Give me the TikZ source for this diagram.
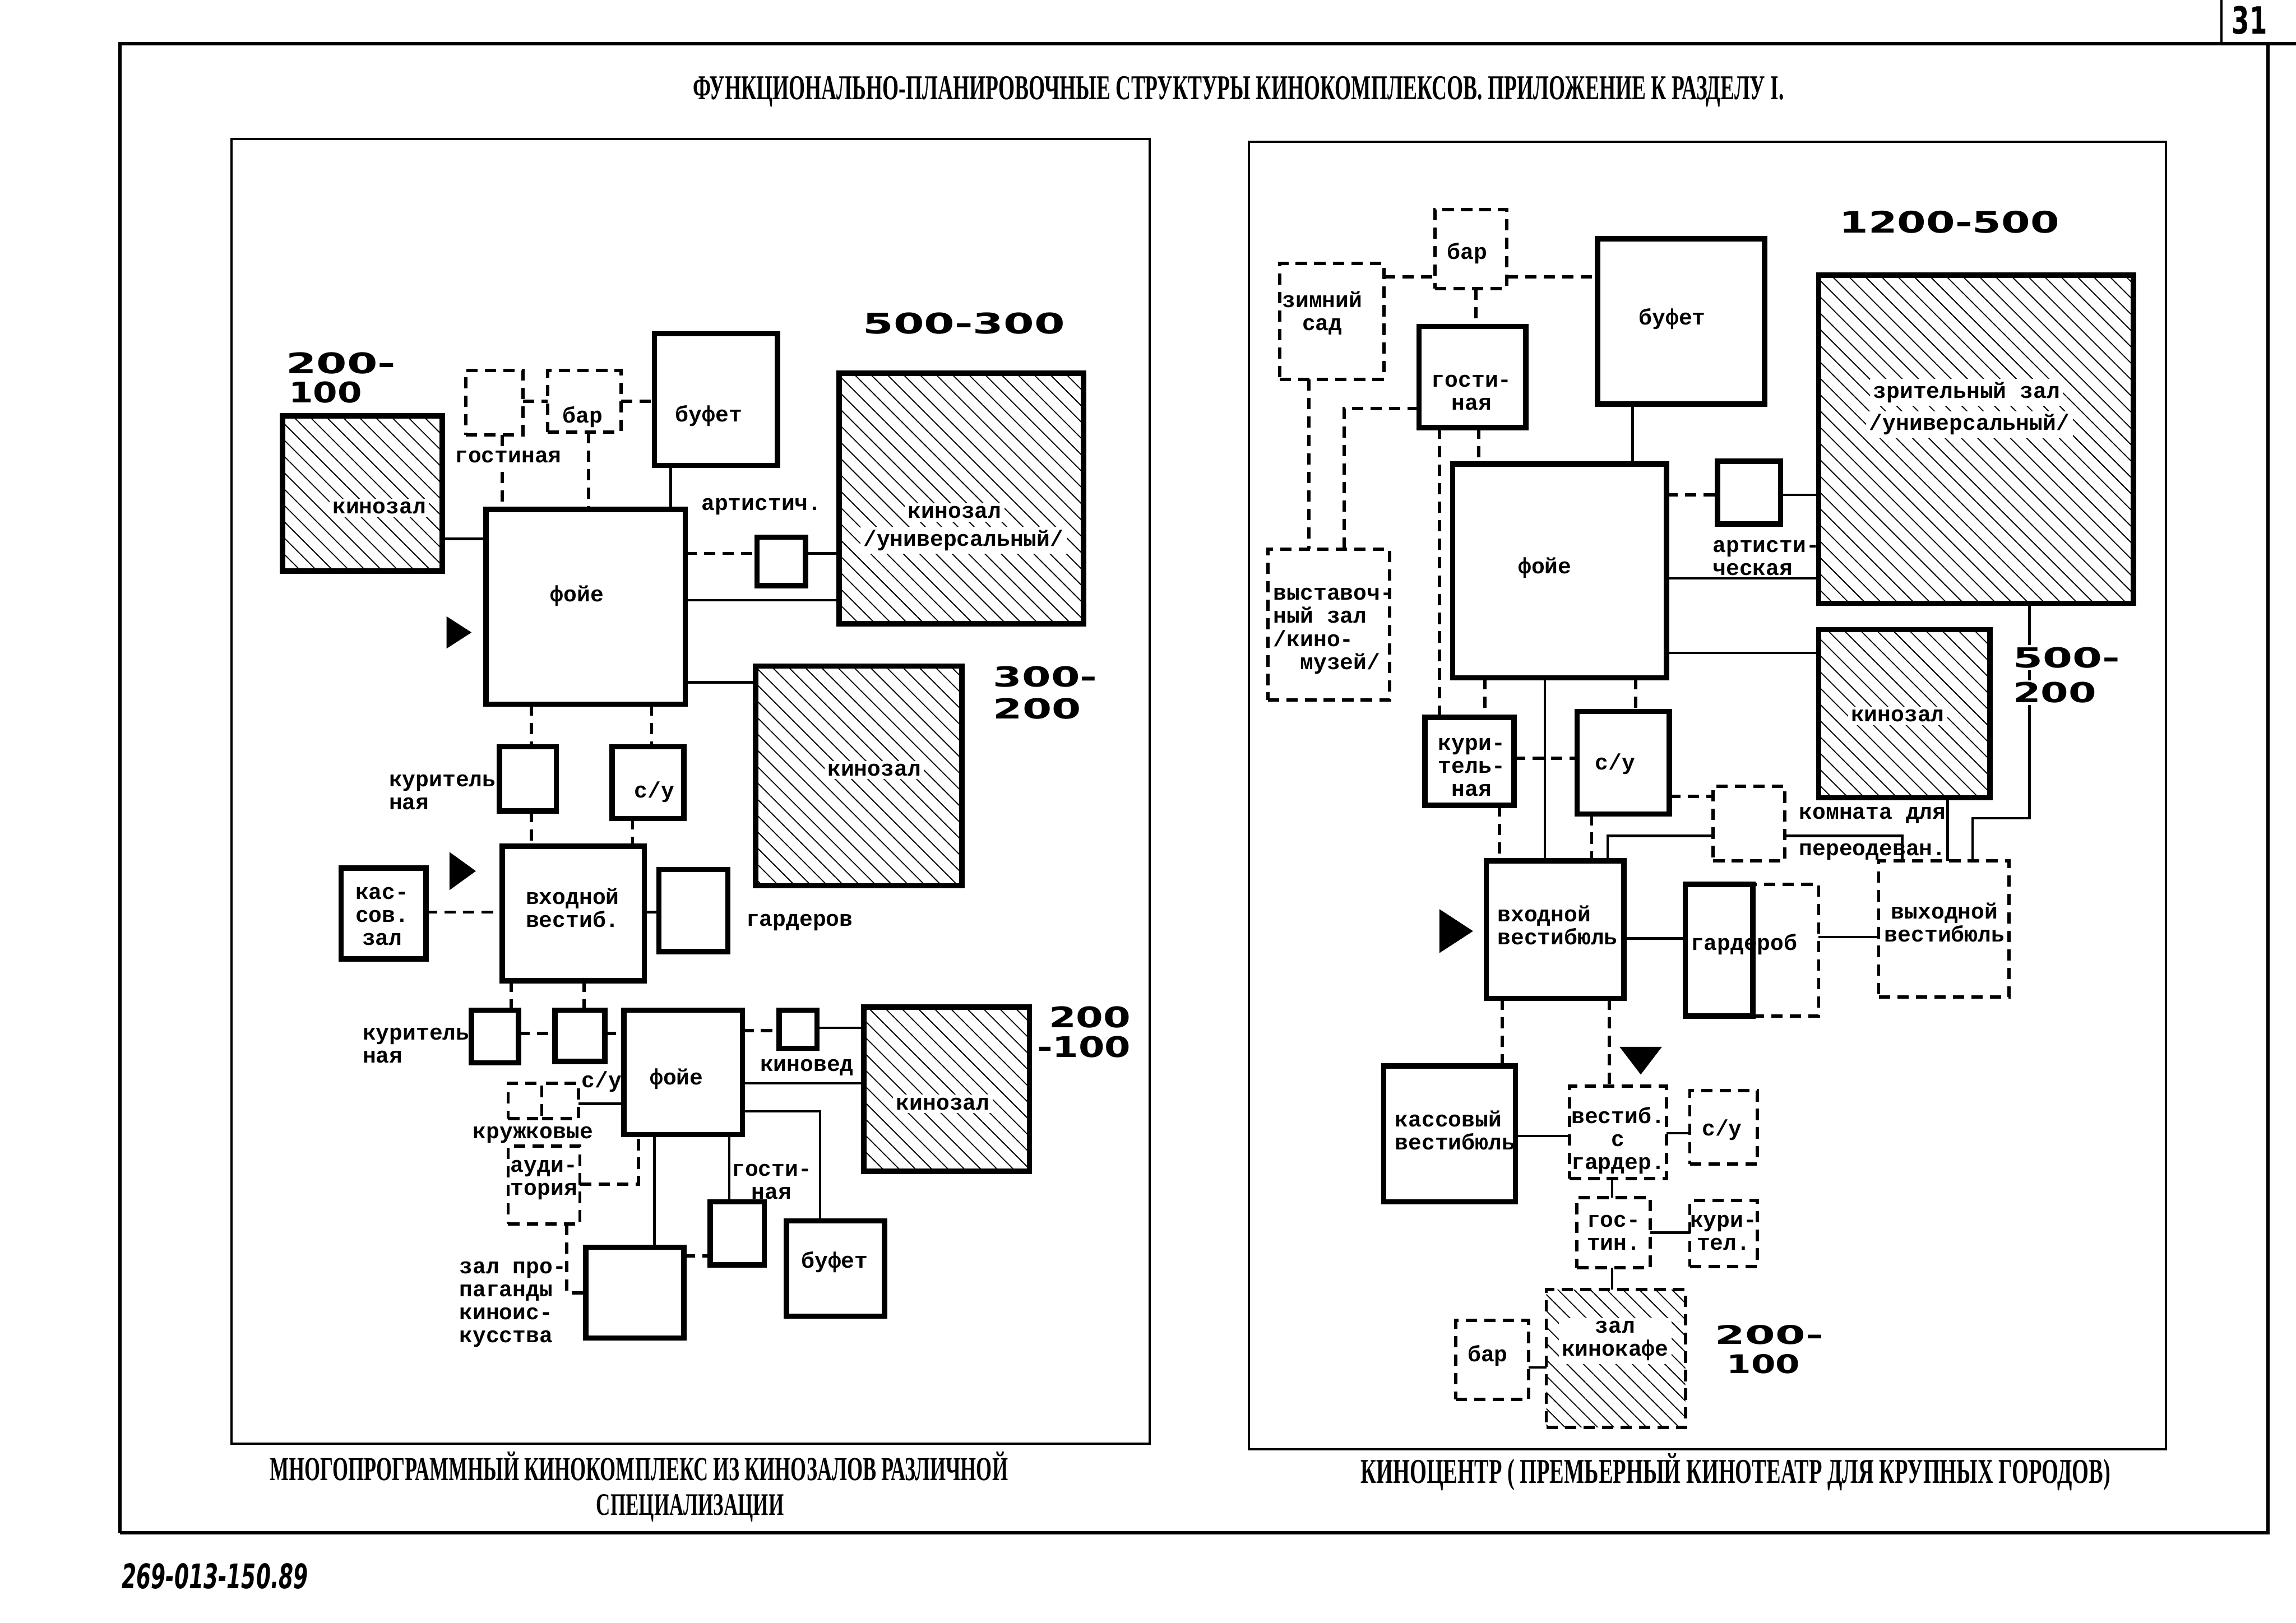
\documentclass[tikz,border=0pt]{standalone}
\usepackage{fontspec}
\usepackage{graphicx}
\setmainfont{Liberation Serif}
\newfontfamily\twf{Liberation Mono}
\newfontfamily\bnf{DejaVu Sans}
\usetikzlibrary{patterns.meta}
\newcommand{\lfont}{\twf\bfseries\fontsize{10.8}{11.2}\selectfont}
\newcommand{\capt}[3]{\resizebox{#1}{#2}{\rule{0pt}{6.55pt}\smash{\bfseries #3}}}
\newcommand{\bnum}[3]{\resizebox{#1}{#2}{\bnf\bfseries #3}}
\newcommand{\bx}[6]{\node[#6, minimum width={(#4-#2)*0.711319}, minimum height={(#5-#3)*0.711319}] (#1) at ({(#2+#4)/2},{(#3+#5)/2}) {};}
\begin{document}
\begin{tikzpicture}[x=0.25mm, y=-0.25mm,
  tk/.style={draw, line width=2.6pt, inner sep=0pt, outer sep=0pt},
  db/.style={draw, line width=1.6pt, dash pattern=on 5.5pt off 3.5pt, inner sep=0pt, outer sep=0pt},
  hatch/.style={pattern={Lines[angle=-45,distance=5.6pt,line width=0.5pt]}},
  sc/.style={line width=1.2pt},
  dc/.style={line width=1.6pt, dash pattern=on 5.5pt off 3.5pt},
  lb/.style={font=\lfont, align=center, inner sep=1pt},
  lbw/.style={lb, fill=white, inner sep=1.5pt},
  num/.style={anchor=base west, inner sep=0pt},
  numw/.style={anchor=base west, inner sep=1pt, fill=white},
]
\fill[white] (0,0) rectangle (1568,1108.6);
\useasboundingbox (0,0) rectangle (1568,1108.6);

% outer frame
\draw[line width=1.6pt] (82,1047) -- (82,30) -- (1568,30);
\draw[line width=1.6pt] (1549,30) -- (1549,1047) -- (82,1047);
\draw[line width=1.2pt] (1517,0) -- (1517,30);
\node[num] (pg) at (1524,23) {\bnum{6mm}{4.75mm}{31}};
\node[num] (title) at (473,68) {\capt{186.25mm}{3.9mm}{ФУНКЦИОНАЛЬНО-ПЛАНИРОВОЧНЫЕ СТРУКТУРЫ КИНОКОМПЛЕКСОВ. ПРИЛОЖЕНИЕ К РАЗДЕЛУ I.}};
\node[num] (capl1) at (184,1011) {\capt{126mm}{3.75mm}{МНОГОПРОГРАММНЫЙ КИНОКОМПЛЕКС ИЗ КИНОЗАЛОВ РАЗЛИЧНОЙ}};
\node[num] (capl2) at (407,1035) {\capt{32mm}{3.5mm}{СПЕЦИАЛИЗАЦИИ}};
\node[num] (capr) at (929,1013) {\capt{128mm}{3.9mm}{КИНОЦЕНТР ( ПРЕМЬЕРНЫЙ КИНОТЕАТР ДЛЯ КРУПНЫХ ГОРОДОВ)}};
\node[num] (code) at (83,1085) {\resizebox{31.75mm}{4.3mm}{\bnf\bfseries\itshape 269-013-150.89}};

% panels
\draw[line width=1.1pt] (158,95) rectangle (785,986);
\draw[line width=1.1pt] (853,97) rectangle (1479,990);

% ================= LEFT PANEL =================
\bx{kz1}{193}{284}{302}{390}{tk,hatch}
\bx{gost1}{318}{253}{357}{297}{db}
\bx{bar1}{374}{253}{424}{295}{db}
\bx{buf1}{447}{228}{531}{318}{tk}
\bx{foy1}{332}{348}{468}{481}{tk}
\bx{art1}{517}{367}{550}{400}{tk}
\bx{kz2}{573}{255}{740}{426}{tk,hatch}
\bx{kz3}{516}{455}{657}{605}{tk,hatch}
\bx{kur1}{341}{510}{380}{554}{tk}
\bx{su1}{418}{510}{467}{559}{tk}
\bx{vx1}{343}{578}{440}{670}{tk}
\bx{kas1}{233}{593}{291}{655}{tk}
\bx{gar1}{450}{594}{497}{650}{tk}
\bx{kur2}{322}{690}{354}{726}{tk}
\bx{su2}{379}{690}{413}{725}{tk}
\bx{foy2}{426}{690}{507}{775}{tk}
\bx{kv}{532}{690}{558}{716}{tk}
\bx{kz4}{590}{688}{703}{800}{tk,hatch}
\bx{kr1}{347}{740}{370}{764}{db}
\bx{kr2}{370}{740}{395}{764}{db}
\bx{aud}{347}{783}{396}{836}{db}
\bx{zal}{400}{852}{467}{914}{tk}
\bx{gost2}{485}{821}{522}{864}{tk}
\bx{buf2}{537}{834}{604}{899}{tk}

\draw[sc] (kz1.east |- 0,368) -- (foy1.west |- 0,368);
\draw[dc] (gost1.east |- 0,274) -- (bar1.west |- 0,274);
\draw[dc] (bar1.east |- 0,274) -- (buf1.west |- 0,274);
\draw[dc] (gost1.south -| 343,0) -- (foy1.north -| 343,0);
\draw[dc] (bar1.south -| 402,0) -- (foy1.north -| 402,0);
\draw[sc] (buf1.south -| 458,0) -- (foy1.north -| 458,0);
\draw[dc] (foy1.east |- 0,378) -- (art1.west |- 0,378);
\draw[sc] (art1.east |- 0,378) -- (kz2.west |- 0,378);
\draw[sc] (foy1.east |- 0,410) -- (kz2.west |- 0,410);
\draw[sc] (foy1.east |- 0,466) -- (kz3.west |- 0,466);
\draw[dc] (foy1.south -| 363,0) -- (kur1.north -| 363,0);
\draw[dc] (foy1.south -| 445,0) -- (su1.north -| 445,0);
\draw[dc] (kur1.south -| 363,0) -- (vx1.north -| 363,0);
\draw[dc] (su1.south -| 432,0) -- (vx1.north -| 432,0);
\draw[dc] (kas1.east |- 0,623) -- (vx1.west |- 0,623);
\draw[sc] (vx1.east |- 0,623) -- (gar1.west |- 0,623);
\draw[dc] (vx1.south -| 349,0) -- (kur2.north -| 349,0);
\draw[dc] (vx1.south -| 399,0) -- (su2.north -| 399,0);
\draw[dc] (kur2.east |- 0,706) -- (su2.west |- 0,706);
\draw[dc] (su2.east |- 0,706) -- (foy2.west |- 0,706);
\draw[dc] (foy2.east |- 0,704) -- (kv.west |- 0,704);
\draw[sc] (kv.east |- 0,702) -- (kz4.west |- 0,702);
\draw[sc] (foy2.east |- 0,740) -- (kz4.west |- 0,740);
\draw[sc] (kr2.east |- 0,754) -- (foy2.west |- 0,754);
\draw[dc] (aud.east |- 0,809) -- (436,809) -- (foy2.south -| 436,0);
\draw[dc] (aud.south -| 387,0) -- (387,883) -- (zal.west |- 0,883);
\draw[sc] (foy2.south -| 447,0) -- (zal.north -| 447,0);
\draw[sc] (foy2.south -| 498,0) -- (gost2.north -| 498,0);
\draw[dc] (zal.east |- 0,858) -- (gost2.west |- 0,858);
\draw[sc] (foy2.east |- 0,759) -- (560,759) -- (buf2.north -| 560,0);

% arrows
\fill (305,421) -- (322,432) -- (305,443) -- cycle;
\fill (307,582) -- (325,595) -- (307,608) -- cycle;

% left labels
\node[lbw] (tkz1) at (259,347) {кинозал};
\node[lbw] (tgost1) at (347,312) {гостиная};
\node[lb] (tbar1) at (398,285) {бар};
\node[lb] (tbuf1) at (484,284) {буфет};
\node[lb] (tfoy1) at (394,407) {фойе};
\node[lb] (tart1) at (520,346) {артистич.};
\node[lbw] (tkz2a) at (652,350) {кинозал};
\node[lbw] (tkz2b) at (658,369) {/универсальный/};
\node[lbw] (tkz3) at (597,526) {кинозал};
\node[lb, anchor=west, align=left] (tkur1) at (264,541) {куритель\\ная};
\node[lb] (tsu1) at (447,541) {с/у};
\node[lb] (tvx1) at (391,620) {входной\\вестиб.};
\node[lb] (tkas1) at (261,626) {кас-\\сов.\\зал};
\node[lb] (tgar1) at (546,630) {гардеров};
\node[lb, anchor=west, align=left] (tkur2) at (246,714) {куритель\\ная};
\node[lb] (tsu2) at (411,739) {с/у};
\node[lb] (tfoy2) at (462,737) {фойе};
\node[lb] (tkv) at (551,729) {киновед};
\node[lbw] (tkz4) at (644,754) {кинозал};
\node[lb] (tkr) at (364,775) {кружковые};
\node[lb, anchor=west, align=left] (taud) at (347,806) {ауди-\\тория};
\node[lb, anchor=west, align=left] (tzal) at (312,891) {зал про-\\паганды\\киноис-\\кусства};
\node[lb] (tgost2) at (527,807) {гости-\\ная};
\node[lb] (tbuf2) at (570,862) {буфет};

% left numbers
\node[num] (n1a) at (195,255) {\bnum{18.75mm}{3.6mm}{200-}};
\node[num] (n1b) at (197,275) {\bnum{12.5mm}{3.6mm}{100}};
\node[num] (n2) at (589,228) {\bnum{34.5mm}{3.6mm}{500-300}};
\node[num] (n3a) at (678,469) {\bnum{17.75mm}{3.5mm}{300-}};
\node[num] (n3b) at (678,491) {\bnum{15mm}{3.5mm}{200}};
\node[num] (n4a) at (716,702) {\bnum{14mm}{3.6mm}{200}};
\node[num] (n4b) at (708,722) {\bnum{16mm}{3.6mm}{-100}};

% ================= RIGHT PANEL =================
\bx{bar2}{980}{143}{1029}{197}{db}
\bx{zim}{874}{180}{945}{259}{db}
\bx{buf3}{1091}{163}{1205}{276}{tk}
\bx{gost3}{969}{223}{1042}{292}{tk}
\bx{zrit}{1242}{188}{1457}{412}{tk,hatch}
\bx{foy3}{992}{317}{1138}{463}{tk}
\bx{art3}{1173}{315}{1216}{358}{tk}
\bx{vyst}{866}{375}{949}{478}{db}
\bx{kz5}{1242}{430}{1359}{545}{tk,hatch}
\bx{kur3}{973}{490}{1034}{550}{tk}
\bx{su3}{1077}{486}{1140}{556}{tk}
\bx{kom}{1170}{537}{1219}{588}{db}
\bx{vx3}{1015}{588}{1109}{682}{tk}
\bx{gar3d}{1197}{604}{1242}{694}{db}
\bx{gar3}{1151}{604}{1197}{694}{tk}
\bx{vyx}{1283}{588}{1372}{681}{db}
\bx{kas3}{945}{728}{1035}{821}{tk}
\bx{vsg}{1072}{742}{1138}{805}{db}
\bx{vsu}{1154}{745}{1200}{795}{db}
\bx{gos4}{1077}{818}{1127}{866}{db}
\bx{kt}{1154}{820}{1200}{865}{db}
\bx{kk}{1056}{881}{1151}{975}{db,hatch}
\bx{bar4}{994}{902}{1044}{956}{db}

\draw[dc] (zim.east |- 0,189) -- (bar2.west |- 0,189);
\draw[dc] (bar2.east |- 0,189) -- (buf3.west |- 0,189);
\draw[dc] (bar2.south -| 1008,0) -- (gost3.north -| 1008,0);
\draw[dc] (zim.south -| 894,0) -- (vyst.north -| 894,0);
\draw[dc] (gost3.west |- 0,279) -- (918,279) -- (vyst.north -| 918,0);
\draw[dc] (gost3.south -| 983,0) -- (kur3.north -| 983,0);
\draw[dc] (gost3.south -| 1010,0) -- (foy3.north -| 1010,0);
\draw[sc] (buf3.south -| 1115,0) -- (foy3.north -| 1115,0);
\draw[dc] (foy3.east |- 0,338) -- (art3.west |- 0,338);
\draw[sc] (art3.east |- 0,338) -- (zrit.west |- 0,338);
\draw[sc] (foy3.east |- 0,395) -- (zrit.west |- 0,395);
\draw[sc] (foy3.east |- 0,446) -- (kz5.west |- 0,446);
\draw[dc] (foy3.south -| 1014,0) -- (kur3.north -| 1014,0);
\draw[sc] (foy3.south -| 1055,0) -- (vx3.north -| 1055,0);
\draw[dc] (foy3.south -| 1117,0) -- (su3.north -| 1117,0);
\draw[dc] (kur3.east |- 0,518) -- (su3.west |- 0,518);
\draw[dc] (kur3.south -| 1024,0) -- (vx3.north -| 1024,0);
\draw[dc] (su3.south -| 1087,0) -- (vx3.north -| 1087,0);
\draw[dc] (su3.east |- 0,544) -- (kom.west |- 0,544);
\draw[sc] (vx3.north -| 1098,0) -- (1098,571) -- (kom.west |- 0,571);
\draw[sc] (kom.east |- 0,571) -- (1299,571) -- (vyx.north -| 1299,0);
\draw[sc] (kz5.south -| 1330,0) -- (vyx.north -| 1330,0);
\draw[sc] (zrit.south -| 1386,0) -- (1386,559) -- (1347,559) -- (vyx.north -| 1347,0);
\draw[sc] (vx3.east |- 0,641) -- (gar3.west |- 0,641);
\draw[sc] (gar3d.east |- 0,640) -- (vyx.west |- 0,640);
\draw[dc] (vx3.south -| 1026,0) -- (kas3.north -| 1026,0);
\draw[dc] (vx3.south -| 1099,0) -- (vsg.north -| 1099,0);
\draw[sc] (kas3.east |- 0,776) -- (vsg.west |- 0,776);
\draw[sc] (vsg.east |- 0,774) -- (vsu.west |- 0,774);
\draw[sc] (vsg.south -| 1101,0) -- (gos4.north -| 1101,0);
\draw[sc] (gos4.east |- 0,842) -- (kt.west |- 0,842);
\draw[sc] (gos4.south -| 1101,0) -- (kk.north -| 1101,0);
\draw[sc] (bar4.east |- 0,934) -- (kk.west |- 0,934);

% arrows
\fill (983,621) -- (1006,636) -- (983,651) -- cycle;
\fill (1106,715) -- (1135,715) -- (1120.5,734) -- cycle;

% right labels
\node[lb] (tbar2) at (1002,173) {бар};
\node[lb] (tzim) at (903,214) {зимний\\сад};
\node[lb] (tbuf3) at (1142,218) {буфет};
\node[lb] (tgost3) at (1005,268) {гости-\\ная};
\node[lbw] (tzrita) at (1343,268) {зрительный зал};
\node[lbw] (tzritb) at (1345,290) {/универсальный/};
\node[lb] (tfoy3) at (1055,388) {фойе};
\node[lb, anchor=west, align=left] (tart3) at (1168,381) {артисти-\\ческая};
\node[lb, anchor=west, align=left] (tvyst) at (868,431) {выставоч-\\ный зал\\/кино-\\\hphantom{мм}музей/};
\node[lbw] (tkz5) at (1296,489) {кинозал};
\node[lb] (tkur3) at (1005,524) {кури-\\тель-\\ная};
\node[lb] (tsu3) at (1103,522) {с/у};
\node[lb, anchor=west] (tkoma) at (1227,557) {комната для};
\node[lb, anchor=west] (tkomb) at (1227,582) {переодеван.};
\node[lb, anchor=west, align=left] (tvx3) at (1021,632) {входной\\вестибюль};
\node[lb] (tgar3) at (1191,645) {гардероб};
\node[lb] (tvyx) at (1328,630) {выходной\\вестибюль};
\node[lb, anchor=west, align=left] (tkas3) at (951,772) {кассовый\\вестибюль};
\node[lb] (tvsg) at (1105,779) {вестиб.\\с\\гардер.};
\node[lb] (tvsu) at (1176,772) {с/у};
\node[lb] (tgos4) at (1102,842) {гос-\\тин.};
\node[lb] (tkt) at (1177,842) {кури-\\тел.};
\node[lbw] (tkk) at (1103,916) {зал\\кинокафе};
\node[lb] (tbar4) at (1016,926) {бар};

% right numbers
\node[num] (r1) at (1256,159) {\bnum{37.5mm}{3.75mm}{1200-500}};
\node[numw] (r2a) at (1373,456) {\bnum{18.25mm}{3.5mm}{500-}};
\node[numw] (r2b) at (1373,480) {\bnum{14.25mm}{3.5mm}{200}};
\node[num] (r3a) at (1171,918) {\bnum{18.5mm}{3.25mm}{200-}};
\node[num] (r3b) at (1179,938) {\bnum{12.5mm}{3.25mm}{100}};
\end{tikzpicture}
\end{document}
